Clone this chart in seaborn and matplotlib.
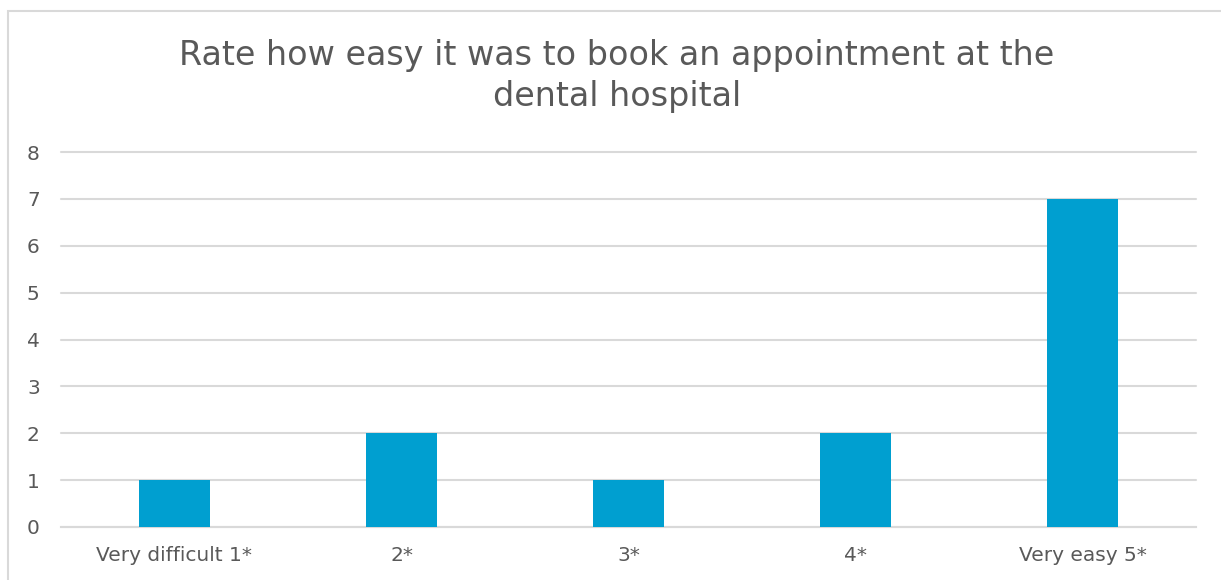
import matplotlib
matplotlib.use('Agg')
import matplotlib.pyplot as plt
import matplotlib.patches as patches
import seaborn as sns
import pandas as pd

sns.set_style('white')
plt.rcParams['font.family'] = ['DejaVu Sans']

categories = ['Very difficult 1*', '2*', '3*', '4*', 'Very easy 5*']
counts = [1, 2, 1, 2, 7]
y_ticks = [0, 1, 2, 3, 4, 5, 6, 7, 8]
title = 'Rate how easy it was to book an appointment at the\ndental hospital'

df = pd.DataFrame({'rating': categories, 'count': counts})

text_color = '#595959'
grid_color = '#d9d9d9'

fig = plt.figure(figsize=(12.21, 5.8), dpi=100)
ax = fig.add_axes([61 / 1221, 1 - 527 / 580, (1196 - 61) / 1221, (527 - 152) / 580])

ax.set_axisbelow(True)
ax.yaxis.grid(True, color=grid_color, linewidth=1.5)
sns.barplot(data=df, x='rating', y='count', color='#009fd0', width=0.31,
            saturation=1, linewidth=0, ax=ax, zorder=3)

ax.set_ylim(0, 8)
ax.set_xlim(-0.5, len(categories) - 0.5)
ax.set_yticks(y_ticks)
for gl in ax.get_ygridlines():
    gl.set_clip_on(False)
ax.tick_params(axis='both', length=0, labelsize=14.5, colors=text_color)
ax.tick_params(axis='x', pad=14)
ax.tick_params(axis='y', pad=24.5)
for lbl in ax.get_yticklabels():
    lbl.set_horizontalalignment('left')
ax.set_xlabel('')
ax.set_ylabel('')
for side in ['top', 'right', 'left']:
    ax.spines[side].set_visible(False)
ax.spines['bottom'].set_color(grid_color)
ax.spines['bottom'].set_linewidth(1.5)

fig.text(617 / 1221, 1 - 76 / 580, title, ha='center', va='center',
         fontsize=24, color=text_color, linespacing=1.3)

border = patches.Rectangle((8 / 1221, -0.05), 1.1, 1 - 11 / 580 + 0.05,
                           transform=fig.transFigure, fill=False,
                           edgecolor=grid_color, linewidth=1.5)
fig.patches.append(border)

fig.savefig('out.png', dpi=100)
